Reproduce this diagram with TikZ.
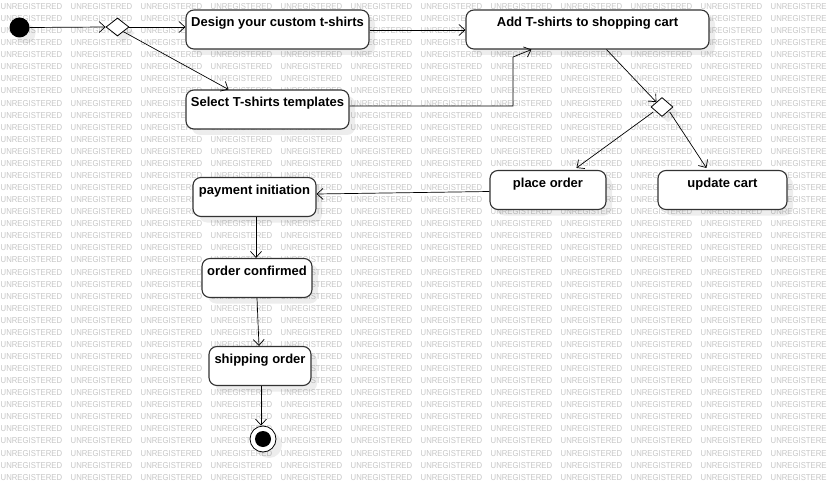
\documentclass[tikz,border=0pt]{standalone}
\usepackage{fontspec}
\setmainfont{Liberation Sans}
\usetikzlibrary{shapes.geometric,arrows.meta,shadows}
\begin{document}
\begin{tikzpicture}[x=1pt,y=-1pt,
  shd/.style={drop shadow={shadow xshift=6pt, shadow yshift=-6pt, fill=black, opacity=0.07}},
  act/.style={draw=black!80, line width=1.1pt, rounded corners=8pt, fill=white, inner sep=0pt,
    text height=17pt, text depth=22pt, font=\fontsize{13}{15}\selectfont\bfseries, shd},
  dec/.style={diamond, draw=black, line width=0.8pt, fill=white, inner sep=0pt, shd},
  flow/.style={draw=black, line width=0.7pt, -{Straight Barb[length=6pt,width=11pt]}},
  wm/.style={text=black!22, inner sep=0pt, anchor=west, font=\fontsize{8.6}{9}\selectfont}
]
\useasboundingbox[fill=white] (0,0) rectangle (827,492);
% watermark
\foreach \r in {0,...,39}{\foreach \c in {0,...,11}{
  \node[wm] (wm-\r-\c) at ({\c*70+0.5},{6.5+\r*12.07}) {\scalebox{0.9}[1]{UNREGISTERED}};}}

% start / end
\node[circle, fill=black, minimum size=20pt, inner sep=0pt, shd] (init) at (19.5,27.5) {};
\node[circle, draw=black, line width=0.8pt, fill=white, minimum size=26pt, inner sep=0pt, shd] (final) at (263,439) {};
\node[circle, fill=black, minimum size=16pt, inner sep=0pt] (finaldot) at (final.center) {};

% decisions
\node[dec, minimum width=23pt, minimum height=18pt] (d1) at (117.5,27) {};
\node[dec, minimum width=22pt, minimum height=19pt] (d2) at (662,107) {};

% actions
\node[act, minimum width=183pt] (design) at (277.5,29.5) {Design your custom t-shirts};
\node[act, minimum width=163pt] (select) at (267.5,109.5) {Select T-shirts templates};
\node[act, minimum width=243pt] (add) at (587.5,29.5) {Add T-shirts to shopping cart};
\node[act, minimum width=116pt] (place) at (548,190) {place order};
\node[act, minimum width=129pt] (update) at (722.5,190) {update cart};
\node[act, minimum width=123pt] (pay) at (254.5,197) {payment initiation};
\node[act, minimum width=110pt] (conf) at (257,278) {order confirmed};
\node[act, minimum width=102pt] (ship) at (260,366) {shipping order};

\coordinate (bend) at (513,57);

% flows
\draw[flow] (init.east) -- (d1.west);
\draw[flow] (d1.east) -- (d1.east -| design.west);
\draw[flow] (d1.south east) -- ([xshift=43pt]select.north west);
\draw[flow] ([yshift=-0.5pt]design.east) -- ([yshift=-0.5pt]design.east -| add.west);
\draw[flow] ([yshift=3.5pt]select.east) -| (bend) -- ([xshift=66pt]add.south west);
\draw[flow] ([xshift=141pt]add.south west) -- (d2.north west);
\draw[flow] ([xshift=-3pt]d2.south west) -- ([xshift=87pt,yshift=2pt]place.north west);
\draw[flow] ([xshift=2pt]d2.south east) -- ([xshift=49pt,yshift=2pt]update.north west);
\draw[flow] ([yshift=-1.5pt]place.west) -- ([yshift=3pt]pay.east);
\draw[flow] ([xshift=1.5pt]pay.south) -- ([xshift=-1pt]conf.north);
\draw[flow] (conf.south) -- ([xshift=-1pt]ship.north);
\draw[flow] ([xshift=1pt]ship.south) -- ([xshift=-2pt]final.north);
\end{tikzpicture}
\end{document}
